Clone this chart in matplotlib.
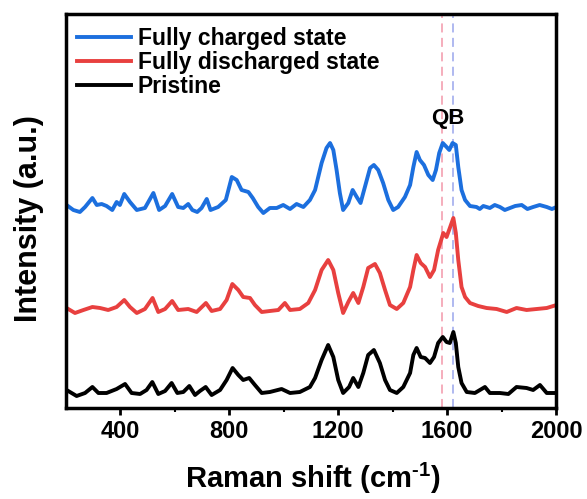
import matplotlib
matplotlib.use("Agg")
import matplotlib.pyplot as plt

# spectra (stacked, arbitrary units)
charged_x = [202, 227, 251, 270, 297, 313, 331, 349, 370, 386, 398, 414, 435, 460, 490,
             521, 542, 564, 590, 612, 631, 649, 664, 682, 698, 717, 731, 759, 787, 809,
             827, 845, 870, 886, 906, 925, 949, 974, 998, 1023, 1047, 1072, 1096, 1115,
             1139, 1157, 1170, 1182, 1194, 1206, 1218, 1237, 1253, 1268, 1282, 1298, 1317,
             1331, 1347, 1365, 1384, 1402, 1420, 1445, 1464, 1476, 1488, 1500, 1515, 1531,
             1547, 1559, 1571, 1584, 1598, 1608, 1620, 1632, 1641, 1653, 1666, 1684, 1708,
             1720, 1733, 1757, 1775, 1794, 1812, 1831, 1850, 1874, 1895, 1916, 1940, 1966,
             1985, 2002]
charged_y = [203, 198, 196, 201, 210, 203, 204, 202, 198, 206, 203, 214, 206, 198, 200,
             215, 198, 202, 214, 201, 200, 204, 198, 196, 200, 209, 198, 201, 208, 231,
             228, 218, 216, 210, 201, 195, 200, 200, 203, 199, 204, 201, 208, 218,
             245, 260, 265, 258, 238, 215, 198, 205, 218, 211, 205, 221, 240,
             243, 238, 225, 208, 198, 201, 211, 223, 241, 256, 248, 243, 233,
             228, 238, 255, 265, 261, 258, 265, 263, 241, 218, 208, 202, 201,
             199, 202, 200, 203, 201, 198, 200, 202, 203, 199, 201, 203, 201,
             199, 201]

discharged_x = [202, 233, 264, 297, 325, 355, 386, 414, 435, 460, 490, 518, 539, 564, 590,
                612, 649, 680, 714, 735, 766, 790, 811, 833, 851, 876, 894, 919, 949, 980,
                1004, 1023, 1059, 1090, 1115, 1139, 1163, 1182, 1200, 1218, 1237, 1255, 1274,
                1292, 1310, 1335, 1353, 1372, 1390, 1415, 1439, 1464, 1476, 1488, 1503, 1519,
                1537, 1552, 1567, 1586, 1598, 1610, 1623, 1632, 1641, 1653, 1666, 1684, 1714,
                1745, 1782, 1819, 1855, 1892, 1929, 1966, 2002]
discharged_y = [100, 95, 98, 101, 100, 98, 101, 108, 101, 95, 99, 110, 96, 99, 107,
                98, 99, 96, 105, 97, 99, 108, 124, 118, 111, 110, 103, 96, 97, 98,
                105, 98, 99, 105, 118, 138, 148, 138, 115, 95, 106, 115, 105,
                121, 140, 144, 135, 118, 103, 99, 105, 121, 138, 153, 145, 141,
                131, 138, 158, 175, 171, 180, 190, 175, 148, 121, 111, 105, 102,
                100, 99, 96, 100, 98, 99, 100, 103]

pristine_x = [202, 239, 270, 297, 319, 349, 386, 417, 441, 472, 496, 517, 539, 564, 588,
              609, 631, 653, 674, 692, 713, 735, 766, 790, 812, 833, 851, 873, 894, 919,
              949, 992, 1023, 1059, 1096, 1115, 1139, 1163, 1182, 1200, 1218, 1240, 1255,
              1274, 1292, 1310, 1331, 1353, 1372, 1390, 1415, 1439, 1464, 1476, 1488, 1503,
              1519, 1537, 1552, 1567, 1584, 1598, 1610, 1623, 1632, 1641, 1653, 1672, 1702,
              1739, 1757, 1794, 1825, 1855, 1892, 1916, 1941, 1966, 2002]
pristine_y = [18, 12, 15, 21, 15, 15, 19, 24, 15, 14, 18, 26, 14, 17, 25,
              15, 16, 22, 13, 17, 21, 13, 18, 28, 40, 33, 28, 30, 23, 15,
              16, 19, 15, 16, 21, 30, 48, 63, 51, 28, 15, 21, 30,
              21, 35, 53, 58, 45, 28, 18, 15, 21, 35, 53, 60, 51,
              50, 45, 51, 65, 71, 66, 65, 76, 65, 41, 25, 16, 15,
              21, 15, 15, 14, 21, 20, 18, 23, 15, 15]

labels = ["Fully charged state", "Fully discharged state", "Pristine"]
colors = ["#1c6fde", "#e8403f", "#000000"]
q_pos = 1580
b_pos = 1622

plt.rcParams["font.family"] = "Liberation Sans"
plt.rcParams["font.weight"] = "bold"
plt.rcParams["mathtext.fontset"] = "custom"
plt.rcParams["mathtext.rm"] = "Liberation Sans:bold"
plt.rcParams["mathtext.bf"] = "Liberation Sans:bold"
plt.rcParams["mathtext.default"] = "bf"

fig = plt.figure(figsize=(5.87, 4.99), dpi=100)
ax = fig.add_axes([66 / 587, 1 - 408 / 499, 490 / 587, 394 / 499])

ax.axvline(q_pos, color="#f4a7b6", lw=1.3, ls=(0, (5, 3)), zorder=1)
ax.axvline(b_pos, color="#a9b3ef", lw=1.3, ls=(0, (5, 3)), zorder=1)

series = [(charged_x, charged_y), (discharged_x, discharged_y), (pristine_x, pristine_y)]
for (xs, ys), lab, c in zip(series, labels, colors):
    ax.plot(xs, ys, color=c, lw=2.8, label=lab, zorder=2, solid_joinstyle="round")

ax.text((q_pos + b_pos) / 2, 290, "QB", fontsize=16, fontweight="bold",
        ha="center", va="center")

ax.set_xlim(200, 2000)
ax.set_ylim(0, 394)
ax.set_xticks([400, 800, 1200, 1600, 2000])
ax.set_xticks([600, 1000, 1400, 1800], minor=True)
ax.set_yticks([])
ax.tick_params(axis="x", which="major", direction="out", length=5, width=2,
               labelsize=17, pad=4)
ax.tick_params(axis="x", which="minor", direction="out", length=3, width=1.5)
for sp in ax.spines.values():
    sp.set_linewidth(2.5)

ax.set_xlabel(r"Raman shift (cm$^{\text{-1}}$)", fontsize=21, fontweight="bold")
ax.set_ylabel("Intensity (a.u.)", fontsize=22, fontweight="bold")
ax.xaxis.set_label_coords(0.504, -0.135)
ax.yaxis.set_label_coords(-0.045, 0.48)

ax.legend(loc="upper left", bbox_to_anchor=(0.022, 0.968), frameon=False,
          fontsize=16.5, handlelength=2.35, handletextpad=0.3, labelspacing=0.05,
          borderaxespad=0, borderpad=0)

fig.savefig("out.png", dpi=100)
